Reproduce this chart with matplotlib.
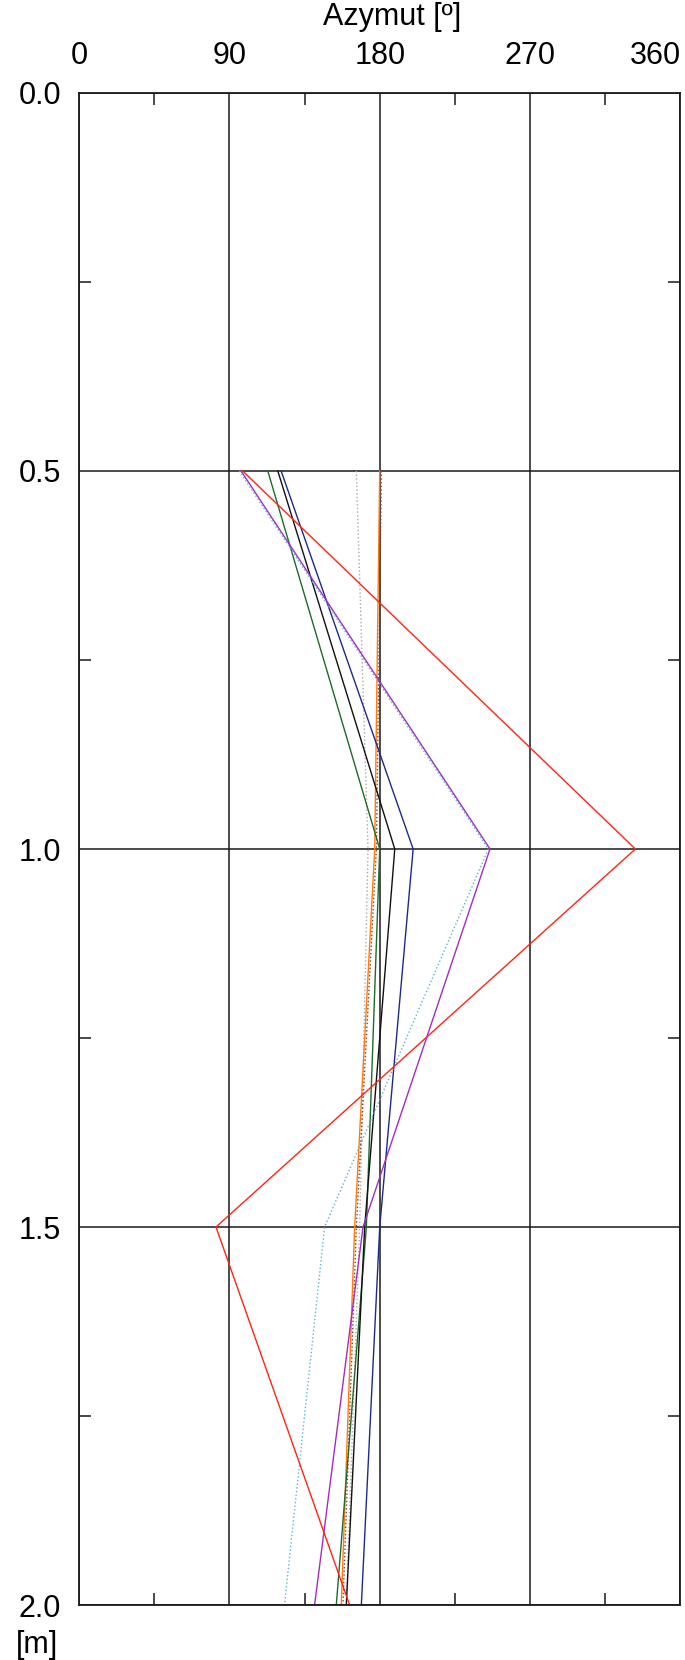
import numpy as np
import matplotlib.pyplot as plt

# font close to the Arial of the original plot
plt.rcParams['font.family'] = ['Liberation Sans', 'DejaVu Sans']

# depth of the measurement points [m]
depth = [0.5, 1.0, 1.5, 2.0]

# azimuth [deg] read for every series at the depths above
az_red = [98, 333, 82, 162]
az_navy = [121, 200, 180, 169]
az_black = [119, 189, 171, 160]
az_green = [113, 180, 172, 154]
az_magenta = [97, 246, 170, 141]
az_cyan = [96, 245, 147, 123]
az_gray = [166, 173, 168, 160]
az_orange = [180, 177, 165, 157]
az_brown = [181, 178, 166, 158]

# axis ticks
x_ticks = [0, 90, 180, 270, 360]
x_labels = ['0', '90', '180', '270', '360']
y_ticks = [0.0, 0.5, 1.0, 1.5, 2.0]
y_labels = ['0.0', '0.5', '1.0', '1.5', '2.0']
x_minor = [45, 135, 225, 315]
y_minor = [0.25, 0.75, 1.25, 1.75]

series = [
    (az_gray, '#a8a8a8', ':'),
    (az_brown, '#8b3a1a', ':'),
    (az_orange, '#ff7a10', '-'),
    (az_green, '#1d6b2a', '-'),
    (az_black, '#111111', '-'),
    (az_navy, '#1c2a8c', '-'),
    (az_magenta, '#a32cc4', '-'),
    (az_cyan, '#5fb2d2', ':'),
    (az_red, '#ff2415', '-'),
]

fig = plt.figure(figsize=(6.85, 16.6), dpi=100)
ax = fig.add_axes([0.1153, 0.0331, 0.8781, 0.9109])

for az, col, ls in series:
    ax.plot(az, depth, color=col, linestyle=ls, linewidth=1.0)

ax.set_xlim(0, 360)
ax.set_ylim(2.0, 0.0)

ax.set_xticks(x_ticks)
ax.set_xticklabels(x_labels, fontsize=22)
ax.set_yticks(y_ticks)
ax.set_yticklabels(y_labels, fontsize=22)
ax.set_xticks(x_minor, minor=True)
ax.set_yticks(y_minor, minor=True)

# grid at the major ticks only
ax.grid(which='major', color='#1a1a1a', linewidth=1.1)

ax.xaxis.tick_top()
ax.xaxis.set_label_position('top')
ax.tick_params(which='major', length=0)
ax.tick_params(axis='x', which='major', pad=16)
ax.tick_params(axis='y', which='major', pad=13)
ax.tick_params(which='minor', direction='in', length=8.5, width=1.1, color='#1a1a1a',
               top=True, bottom=True, left=True, right=True)
# last label kept inside the figure like in the original
ax.xaxis.get_major_ticks()[-1].label2.set_horizontalalignment('right')
ax.xaxis.get_major_ticks()[-1].label2.set_fontsize(22)
for s in ax.spines.values():
    s.set_linewidth(1.3)
    s.set_color('#1a1a1a')

ax.set_xlabel('Azymut [º]', fontsize=22)
ax.xaxis.set_label_coords(0.52, 1.045)
fig.text(0.054, 0.009, '[m]', fontsize=22, ha='center', va='center')

fig.savefig('out.png', dpi=100)
